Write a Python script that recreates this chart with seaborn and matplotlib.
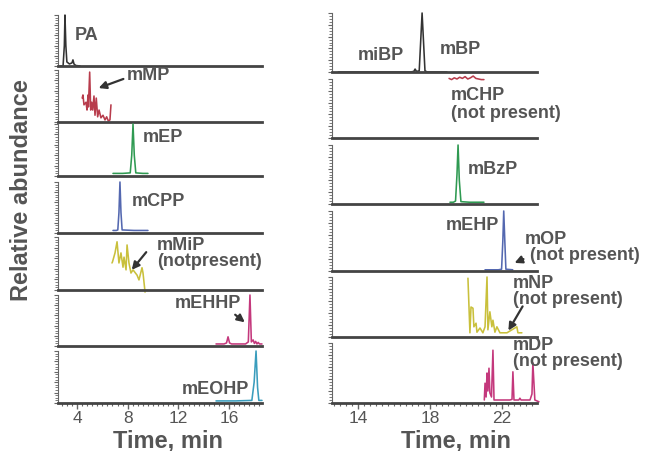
import matplotlib
matplotlib.use('Agg')
import matplotlib.pyplot as plt
import seaborn as sns
from matplotlib.ticker import MultipleLocator, NullFormatter

# chromatogram traces: retention time (min) and relative abundance (%)
PA_t = [2.66, 2.9, 3.0, 3.05, 3.12, 3.2, 3.4, 3.6, 3.68, 3.76, 3.9, 4.24]
PA_y = [0, 0, 40, 100, 40, 8, 4, 6, 12, 4, 1, 0]

mMP_t = [4.41, 4.47, 4.55, 4.71, 4.79, 4.87, 4.90, 5.00, 5.08, 5.16, 5.24, 5.34,
         5.42, 5.52, 5.63, 5.74, 5.89, 6.05, 6.21, 6.34, 6.47, 6.60, 6.68]
mMP_y = [46, 52, 33, 38, 23, 52, 29, 96, 23, 38, 23, 50,
         13, 46, 10, 23, 8, 13, 4, 10, 2, 4, 33]

mEP_t = [6.84, 7.6, 8.2, 8.32, 8.42, 8.52, 8.64, 9.2, 9.6]
mEP_y = [5, 5, 6, 40, 100, 40, 6, 5, 5]

mCPP_t = [6.84, 7.1, 7.22, 7.31, 7.39, 7.47, 7.56, 8.5, 9.6]
mCPP_y = [5, 5, 6, 40, 100, 40, 6, 5, 5]

mMiP_t = [6.76, 6.80, 7.00, 7.16, 7.31, 7.47, 7.63, 7.71, 7.87, 7.95, 8.10, 8.26,
          8.42, 8.74, 8.89, 9.13, 9.21, 9.37]
mMiP_y = [51, 53, 70, 91, 51, 70, 43, 62, 38, 85, 51, 32,
          38, 28, 19, 42, 32, -4]

mEHHP_t = [14.97, 15.6, 15.8, 15.92, 16.04, 16.2, 17.3, 17.52, 17.65, 17.76,
           17.9, 18.0, 18.1, 18.2, 18.3, 18.4, 18.6]
mEHHP_y = [4, 4, 6, 18, 6, 4, 4, 8, 100, 8, 12, 5, 9, 4, 7, 4, 4]

mEOHP_t = [14.97, 16.5, 17.8, 17.98, 18.13, 18.25, 18.35, 18.6]
mEOHP_y = [4, 4, 5, 40, 100, 30, 5, 5]

mBP_t = [12.9, 16.9, 17.1, 17.17, 17.25, 17.4, 17.56, 17.72, 17.85, 18.94]
mBP_y = [0, 0, 1, 5, 1, 2, 100, 2, 0, 0]

mCHP_t = [19.06, 19.2, 19.35, 19.5, 19.65, 19.8, 19.95, 20.1, 20.25, 20.4,
          20.55, 20.7, 20.85, 21.0]
mCHP_y = [101, 99, 102, 100, 103, 101, 104, 100, 102, 105, 101, 100, 99, 99]

mBzP_t = [19.11, 19.3, 19.42, 19.5, 19.56, 19.63, 19.72, 20.2, 21.0]
mBzP_y = [3, 3, 5, 50, 100, 40, 4, 3, 3]

mEHP_t = [21.06, 21.8, 21.98, 22.05, 22.1, 22.16, 22.22, 22.6]
mEHP_y = [2, 2, 3, 50, 100, 50, 3, 2]

mNP_t = [20.11, 20.22, 20.28, 20.39, 20.44, 20.56, 20.61, 20.78, 20.94, 21.06,
         21.17, 21.22, 21.33, 21.44, 21.5, 21.61, 21.72, 21.89, 22.28, 22.83,
         22.89, 23.11]
mNP_y = [98, 7, 50, 48, 17, 23, 8, 15, 7, 17, 100, 12, 42, 17, 28, 8, 17, 7,
         7, 17, 7, 7]

mDP_t = [21.02, 21.06, 21.12, 21.17, 21.22, 21.28, 21.33, 21.42, 21.5, 21.56,
         21.89, 22.44, 22.56, 22.61, 22.67, 22.94, 23.0, 23.06, 23.56, 23.67,
         23.72, 23.83, 24.06]
mDP_y = [5, 33, 10, 50, 20, 58, 17, 10, 88, 5, 5, 5, 6, 52, 5, 5, 8, 5, 5, 15,
         67, 5, 2]

left_ticks = [4, 8, 12, 16]
right_ticks = [14, 18, 22]

RED, GREEN, BLUE = '#b83c4c', '#2f9a52', '#5468b0'
YELLOW, MAGENTA, TEAL, BLACK = '#c9c03c', '#c4387c', '#3a9dbd', '#333333'
TXT = '#555555'

W, H = 646, 451


def fx(x):
    return x / W


def fy(y):
    return 1 - y / H


def make_axes(x0, x1, top, bottom):
    return fig.add_axes([fx(x0), fy(bottom), fx(x1 - x0), (bottom - top) / H])


sns.set_style('ticks')
plt.rcParams['font.family'] = ['Liberation Sans', 'DejaVu Sans']

fig = plt.figure(figsize=(6.46, 4.51), dpi=100)

left_rows = [(15, 66), (70, 122), (124, 176), (182, 233), (237, 290), (295, 346), (351, 403)]
right_rows = [(13, 72), (79, 138), (145, 204), (211, 271), (277, 337), (343, 403)]

left_traces = [(PA_t, PA_y, BLACK), (mMP_t, mMP_y, RED), (mEP_t, mEP_y, GREEN),
               (mCPP_t, mCPP_y, BLUE), (mMiP_t, mMiP_y, YELLOW),
               (mEHHP_t, mEHHP_y, MAGENTA), (mEOHP_t, mEOHP_y, TEAL)]
right_traces = [(mBP_t, mBP_y, BLACK), (mCHP_t, mCHP_y, RED), (mBzP_t, mBzP_y, GREEN),
                (mEHP_t, mEHP_y, BLUE), (mNP_t, mNP_y, YELLOW), (mDP_t, mDP_y, MAGENTA)]


def draw_column(x0, x1, rows, traces, xlim, ticks, minor):
    n = len(rows)
    for i, ((top, bottom), (t, y, c)) in enumerate(zip(rows, traces)):
        ax = make_axes(x0, x1, top, bottom)
        sns.lineplot(x=t, y=y, ax=ax, color=c, lw=1.15)
        for ln in ax.lines:
            ln.set_clip_on(False)
        ax.set_xlim(*xlim)
        ax.set_ylim(0, 100)
        ax.set_xlabel('')
        ax.set_ylabel('')
        for s in ['top', 'right']:
            ax.spines[s].set_visible(False)
        ax.spines['bottom'].set_color('#444444')
        ax.spines['bottom'].set_linewidth(2)
        ax.spines['left'].set_color('#666666')
        ax.spines['left'].set_linewidth(0.8)
        ax.yaxis.set_major_locator(MultipleLocator(20))
        ax.yaxis.set_minor_locator(MultipleLocator(5))
        ax.yaxis.set_major_formatter(NullFormatter())
        ax.tick_params(axis='y', which='major', length=3, width=0.8, color='#666666')
        ax.tick_params(axis='y', which='minor', length=2, width=0.6, color='#666666')
        if i == n - 1:
            ax.set_xticks(ticks)
            ax.xaxis.set_minor_locator(MultipleLocator(minor))
            ax.tick_params(axis='x', which='major', length=4, width=1, color='#666666',
                           labelsize=12.5, labelcolor=TXT, pad=2)
            ax.tick_params(axis='x', which='minor', length=2, width=0.8, color='#666666')
        else:
            ax.set_xticks([])
            ax.tick_params(axis='x', which='both', length=0)


draw_column(58, 262, left_rows, left_traces, (2.5, 18.6), left_ticks, 0.4)
draw_column(332, 537, right_rows, right_traces, (12.55, 23.95), right_ticks, 1 / 3)

labels = [
    ('PA', 75, 35), ('mMP', 127, 76), ('mEP', 143, 137), ('mCPP', 132, 201),
    ('mMiP', 157, 245), ('(notpresent)', 157, 262), ('mEHHP', 175, 303),
    ('mEOHP', 182, 390),
    ('miBP', 358, 55), ('mBP', 440, 49), ('mCHP', 451, 95),
    ('(not present)', 451, 114), ('mBzP', 468, 170), ('mEHP', 446, 226),
    ('mOP', 525, 240), ('(not present)', 530, 256), ('mNP', 513, 283),
    ('(not present)', 513, 300), ('mDP', 513, 345), ('(not present)', 513, 362),
]
for txt, x, y in labels:
    fig.text(fx(x), fy(y), txt, ha='left', va='center', fontsize=13,
             fontweight='bold', color=TXT)

arrows = [((126, 78), (96, 89)), ((148, 250), (130, 272)), ((233, 313), (247, 324)),
          ((526, 258), (512, 264)), ((524, 304), (507, 333))]
for tail, head in arrows:
    fig.add_artist(matplotlib.patches.FancyArrowPatch(
        (fx(tail[0]), fy(tail[1])), (fx(head[0]), fy(head[1])),
        transform=fig.transFigure, arrowstyle='-|>', mutation_scale=11,
        color='#333333', lw=1.6))

fig.text(fx(22), fy(190), 'Relative abundance', rotation=90, ha='center', va='center',
         fontsize=17, fontweight='bold', color=TXT)
fig.text(fx(168), fy(441), 'Time, min', ha='center', va='center',
         fontsize=17, fontweight='bold', color=TXT)
fig.text(fx(456), fy(441), 'Time, min', ha='center', va='center',
         fontsize=17, fontweight='bold', color=TXT)

fig.savefig('out.png', dpi=100)
